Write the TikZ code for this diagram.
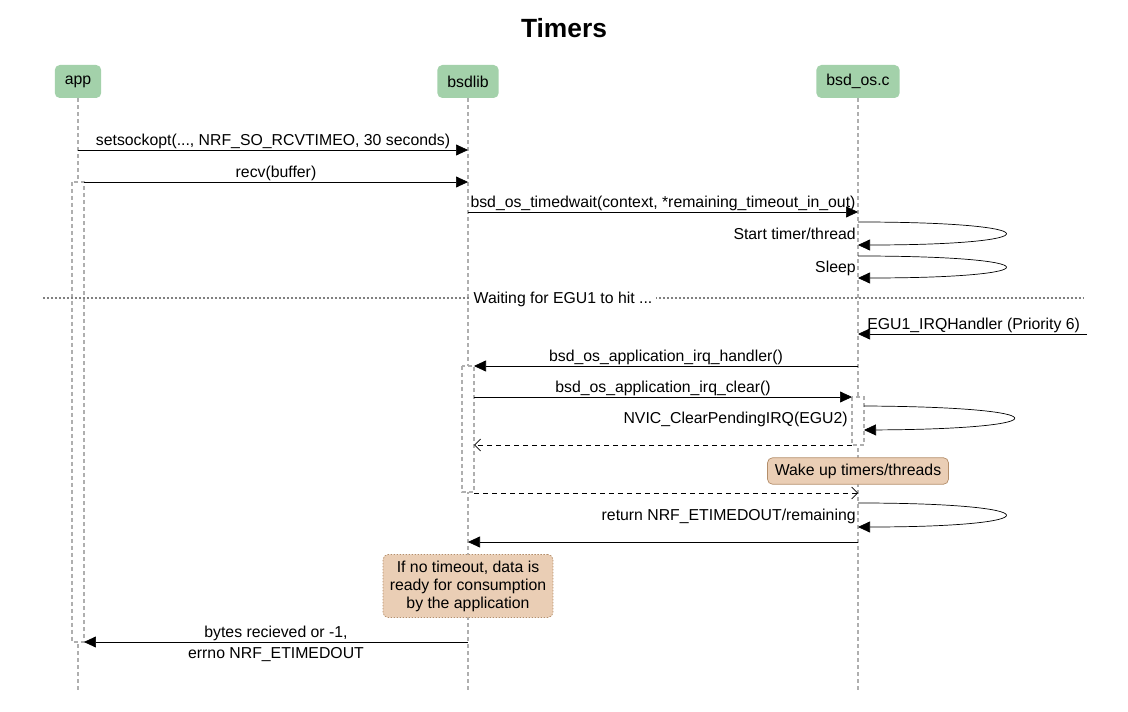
\documentclass[tikz,border=0pt]{standalone}
\usepackage{fontspec}
\setmainfont{Liberation Sans}
\usepackage{tikz}
\usetikzlibrary{arrows.meta}
\definecolor{actorgreen}{RGB}{163,209,170}
\definecolor{notefill}{RGB}{234,206,181}
\definecolor{notedraw}{RGB}{180,142,106}
\definecolor{lifegray}{RGB}{175,175,175}
\tikzstyle{arrow} = [-{Triangle[length=0.24cm,width=0.22cm]}]
\tikzstyle{reply} = [dash pattern=on 0.1cm off 0.08cm, -{Straight Barb[length=0.12cm,width=0.24cm]}]
\tikzstyle{actor} = [fill=actorgreen, rounded corners=0.1cm, minimum height=0.66cm, inner xsep=0.2cm]
\tikzstyle{lifeline} = [lifegray, line width=0.8pt, dash pattern=on 0.08cm off 0.06cm]
\tikzstyle{activation} = [lifeline, fill=white]
\tikzstyle{note} = [fill=notefill, draw=notedraw, rounded corners=0.1cm, align=center]
\tikzstyle{msgtext} = [above, inner sep=0.02cm]

\begin{document}
\begin{tikzpicture}[x=0.02cm, y=-0.02cm, font=\fontsize{9}{11}\selectfont]
	\useasboundingbox (0,0) rectangle (1128,712);

	\node (title) at (564,28) {\fontsize{15}{18}\selectfont\bfseries Timers};

	\node (app) [actor] at (78,81.5) {app};
	\node (bsdlib) [actor] at (468,81.5) {bsdlib};
	\node (bsdos) [actor] at (858,81.5) {bsd\_os.c};

	\coordinate (append) at (78,692);
	\coordinate (bsdlibend) at (468,692);
	\coordinate (bsdosend) at (858,692);
	\draw [lifeline] (app) -- (append);
	\draw [lifeline] (bsdlib) -- (bsdlibend);
	\draw [lifeline] (bsdos) -- (bsdosend);

	\draw [activation] (72,182) rectangle (84,642);
	\draw [activation] (462,366) rectangle (474,492);
	\draw [activation] (852,397) rectangle (864,445);

	\coordinate (app1) at (78,150);
	\coordinate (lib1) at (468,150);
	\coordinate (app2) at (84,182);
	\coordinate (lib2) at (468,182);
	\coordinate (lib3) at (468,212);
	\coordinate (os3) at (858,212);
	\coordinate (os4a) at (858,222);
	\coordinate (os4b) at (858,245);
	\coordinate (os5a) at (858,256);
	\coordinate (os5b) at (858,278);
	\coordinate (sepl) at (43,298);
	\coordinate (sepr) at (1083,298);
	\coordinate (irq) at (1087,334);
	\coordinate (os7) at (858,334);
	\coordinate (os8) at (858,366);
	\coordinate (lib8) at (474,366);
	\coordinate (lib9) at (474,397);
	\coordinate (os9) at (852,397);
	\coordinate (os10a) at (864,406);
	\coordinate (os10b) at (864,430);
	\coordinate (os11) at (852,445);
	\coordinate (lib11) at (474,445);
	\coordinate (lib12) at (474,493);
	\coordinate (os12) at (858,493);
	\coordinate (os13a) at (858,503);
	\coordinate (os13b) at (858,527);
	\coordinate (os14) at (858,542);
	\coordinate (lib14) at (468,542);
	\coordinate (lib15) at (468,642);
	\coordinate (app15) at (84,642);

	\draw [arrow] (app1) -- node [msgtext] {setsockopt(..., NRF\_SO\_RCVTIMEO, 30 seconds)} (lib1);
	\draw [arrow] (app2) -- node [msgtext] {recv(buffer)} (lib2);
	\draw [arrow] (lib3) -- node [msgtext] {bsd\_os\_timedwait(context, *remaining\_timeout\_in\_out)} (os3);

	\draw [arrow] (os4a) .. controls (1054,222) and (1054,245) .. (os4b);
	\node (starttxt) [anchor=east, inner sep=0.04cm] at (858,234) {Start timer/thread};
	\draw [arrow] (os5a) .. controls (1054,256) and (1054,278) .. (os5b);
	\node (sleeptxt) [anchor=east, inner sep=0.04cm] at (858,268) {Sleep};

	\draw [gray, line width=0.8pt, dash pattern=on 0.04cm off 0.04cm] (sepl) -- (sepr);
	\node (waittxt) [fill=white, inner xsep=0.08cm] at (563,299) {Waiting for EGU1 to hit ...};

	\draw [arrow] (irq) -- node [pos=1, anchor=south west, xshift=0.16cm, inner sep=0.02cm] {EGU1\_IRQHandler (Priority 6)} (os7);
	\draw [arrow] (os8) -- node [msgtext] {bsd\_os\_application\_irq\_handler()} (lib8);
	\draw [arrow] (lib9) -- node [msgtext] {bsd\_os\_application\_irq\_clear()} (os9);

	\draw [arrow] (os10a) .. controls (1063,407) and (1063,429) .. (os10b);
	\node (nvictxt) [anchor=east, inner sep=0.04cm] at (850,419) {NVIC\_ClearPendingIRQ(EGU2)};

	\draw [reply] (os11) -- (lib11);
	\node (wakenote) [note, minimum width=3.62cm, minimum height=0.52cm] at (858,471) {Wake up timers/threads};
	\draw [reply] (lib12) -- (os12);

	\draw [arrow] (os13a) .. controls (1054,503) and (1054,527) .. (os13b);
	\node (rettxt) [anchor=east, inner sep=0.04cm] at (858,516) {return NRF\_ETIMEDOUT/remaining};
	\draw [arrow] (os14) -- (lib14);

	\node (datanote) [note, dash pattern=on 0.03cm off 0.03cm, minimum width=3.4cm, minimum height=1.26cm, font=\fontsize{9}{10.2}\selectfont] at (468,586) {If no timeout, data is\\ready for consumption\\by the application};

	\draw [arrow] (lib15) -- node [msgtext] {bytes recieved or -1,} node [below, inner sep=0.1cm] {errno NRF\_ETIMEDOUT} (app15);
\end{tikzpicture}
\end{document}
